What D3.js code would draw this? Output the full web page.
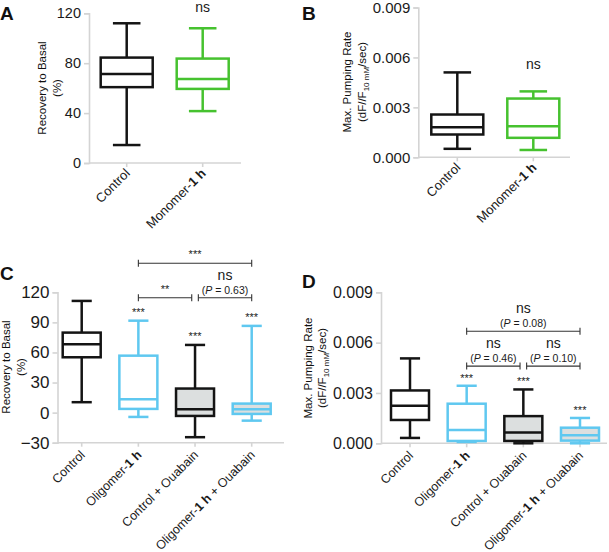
<!DOCTYPE html>
<html>
<head>
<meta charset="utf-8">
<script src="https://cdnjs.cloudflare.com/ajax/libs/d3/7.8.5/d3.min.js"></script>
<style>
  html, body { margin: 0; padding: 0; background: #fff; }
  svg { display: block; font-family: "Liberation Sans", Arial, Helvetica, sans-serif; }
</style>
</head>
<body>
<svg id="chart" width="609" height="552"></svg>
<script>
// ---------------- DATA ----------------
const catsAB = [["Control", ""], ["Monomer-", "1 h"]];
const catsCD = [["Control", "", ""], ["Oligomer-", "1 h", ""], ["Control + Ouabain", "", ""], ["Oligomer-", "1 h", " + Ouabain"]];

// five-number summaries: [min, q1, median, q3, max]
const recoveryMonomer = [
  [14.4, 60.8, 71.4, 84.5, 112],
  [41.6, 59.4, 67.4, 83.7, 108]
];
const pumpingMonomer = [
  [0.00051, 0.00137, 0.00181, 0.00257, 0.0051],
  [0.00044, 0.00117, 0.00187, 0.00353, 0.00396]
];
const recoveryOligomer = [
  [10.4, 55.2, 68.2, 79.8, 111.4],
  [-4.3, 3.7, 13.4, 56.8, 91.7],
  [-24.5, -3.3, 3.4, 24.0, 67.5],
  [-8.0, -1.3, 3.4, 9.0, 86.5]
];
const pumpingOligomer = [
  [0.00032, 0.00139, 0.00224, 0.00315, 0.00506],
  [0.00008, 0.00014, 0.00079, 0.00236, 0.00343],
  [0.00000, 0.00014, 0.00065, 0.00162, 0.00321],
  [0.00000, 0.00016, 0.00048, 0.00093, 0.00151]
];

const ticksRecoveryA = [0, 40, 80, 120];
const ticksPumping = [0, 0.003, 0.006, 0.009];
const ticksRecoveryC = [-30, 0, 30, 60, 90, 120];

// significance labels
const starsA = ["", "ns"];
const starsB = ["", "ns"];
const starsC = ["", "***", "***", "***"];
const starsD = ["", "***", "***", "***"];
const bracketsC = [
  {from: 1, to: 3, text: "***", p: null},
  {from: 1, to: 2, text: "**", p: null},
  {from: 2, to: 3, text: "ns", p: "0.63"}
];
const bracketsD = [
  {from: 1, to: 3, text: "ns", p: "0.08"},
  {from: 1, to: 2, text: "ns", p: "0.46"},
  {from: 2, to: 3, text: "ns", p: "0.10"}
];

// ---------------- STYLE / LAYOUT ----------------
const BLACK = "#141414", GREEN = "#46c22f", BLUE = "#5fc8f0", GRAYFILL = "#dcdfdf", AXIS = "#d4d4d4";
const svg = d3.select("#chart");

function panel(cfg) {
  const g = svg.append("g");
  const x = d3.scalePoint().domain(d3.range(cfg.cats.length)).range(cfg.xr);
  const y = d3.scaleLinear().domain(cfg.domain).range(cfg.yr);

  // y axis
  const ya = g.append("g").attr("transform", `translate(${cfg.x0},0)`)
    .call(d3.axisLeft(y).tickValues(cfg.ticks).tickSize(5).tickPadding(3).tickFormat(cfg.fmt));
  ya.select(".domain").attr("stroke", AXIS).attr("stroke-width", 1.6);
  ya.selectAll(".tick line").attr("stroke", AXIS).attr("stroke-width", 1.6);
  ya.selectAll(".tick text").attr("fill", "#1a1a1a").attr("font-size", cfg.tickFs)
    .attr("font-family", "Liberation Sans, Arial, sans-serif");

  // x axis
  const y0 = cfg.yr[0];
  g.append("line").attr("x1", cfg.x0).attr("x2", cfg.x1).attr("y1", y0).attr("y2", y0)
    .attr("stroke", AXIS).attr("stroke-width", 1.6);
  g.selectAll(".xt").data(cfg.cats).join("line")
    .attr("x1", (d, i) => x(i)).attr("x2", (d, i) => x(i))
    .attr("y1", y0).attr("y2", y0 + 4).attr("stroke", AXIS).attr("stroke-width", 1.6);

  // x labels
  cfg.cats.forEach((c, i) => {
    const t = g.append("text")
      .attr("transform", `translate(${x(i) + cfg.lblDx},${y0 + cfg.lblDy}) rotate(-45)`)
      .attr("text-anchor", "end").attr("font-size", cfg.lblFs).attr("fill", "#1a1a1a");
    t.append("tspan").text(c[0]);
    if (c[1]) t.append("tspan").attr("font-weight", "bold").text(c[1]);
    if (c[2]) t.append("tspan").text(c[2]);
  });

  // boxes
  const bw = cfg.bw, cw = bw * 0.53;
  cfg.stats.forEach((s, i) => {
    const col = cfg.colors[i], cx = x(i);
    const bg = g.append("g").attr("stroke", col).attr("stroke-width", 2.5).attr("fill", "none");
    bg.append("line").attr("x1", cx).attr("x2", cx).attr("y1", y(s[4])).attr("y2", y(s[3]));
    bg.append("line").attr("x1", cx).attr("x2", cx).attr("y1", y(s[1])).attr("y2", y(s[0]));
    bg.append("line").attr("x1", cx - cw / 2).attr("x2", cx + cw / 2).attr("y1", y(s[4])).attr("y2", y(s[4]));
    bg.append("line").attr("x1", cx - cw / 2).attr("x2", cx + cw / 2).attr("y1", y(s[0])).attr("y2", y(s[0]));
    bg.append("rect").attr("x", cx - bw / 2).attr("width", bw)
      .attr("y", y(s[3])).attr("height", y(s[1]) - y(s[3]))
      .attr("fill", cfg.fills[i]);
    bg.append("line").attr("x1", cx - bw / 2).attr("x2", cx + bw / 2).attr("y1", y(s[2])).attr("y2", y(s[2]));

    const st = cfg.stars[i];
    if (st) {
      const isNs = st === "ns";
      g.append("text").attr("x", cx).attr("y", isNs ? cfg.nsY : y(s[4]) - cfg.starGap)
        .attr("text-anchor", "middle").attr("font-size", isNs ? 14 : 11)
        .attr("fill", "#1a1a1a").text(st);
    }
  });

  // brackets
  if (cfg.brackets) {
    cfg.brackets.forEach((b, k) => {
      const by = y(cfg.bracketLevels[k]);
      const sameLevel = (j) => j !== k && cfg.bracketLevels[j] === cfg.bracketLevels[k];
      const xa = x(b.from) + (cfg.brackets.some((o, j) => sameLevel(j) && o.to === b.from) ? 3.3 : 0);
      const xb = x(b.to) - (cfg.brackets.some((o, j) => sameLevel(j) && o.from === b.to) ? 3.3 : 0);
      const bgp = g.append("g").attr("stroke", "#333").attr("stroke-width", 1.1);
      bgp.append("line").attr("x1", xa).attr("x2", xb).attr("y1", by).attr("y2", by);
      bgp.append("line").attr("x1", xa).attr("x2", xa).attr("y1", by - 3.5).attr("y2", by + 3.5);
      bgp.append("line").attr("x1", xb).attr("x2", xb).attr("y1", by - 3.5).attr("y2", by + 3.5);
      const mx = (xa + xb) / 2;
      if (b.p) {
        g.append("text").attr("x", mx).attr("y", by - 18).attr("text-anchor", "middle")
          .attr("font-size", 14).attr("fill", "#1a1a1a").text(b.text);
        const pt = g.append("text").attr("x", mx).attr("y", by - 4).attr("text-anchor", "middle")
          .attr("font-size", 10.5).attr("fill", "#1a1a1a");
        pt.append("tspan").text("(");
        pt.append("tspan").attr("font-style", "italic").text("P");
        pt.append("tspan").text(" = " + b.p + ")");
      } else {
        g.append("text").attr("x", mx).attr("y", by - 5).attr("text-anchor", "middle")
          .attr("font-size", 11).attr("fill", "#1a1a1a").text(b.text);
      }
    });
  }

  // y label
  const yl = g.append("text").attr("transform", `translate(${cfg.ylX},${cfg.ylY}) rotate(-90)`)
    .attr("text-anchor", "middle").attr("font-size", 11.5).attr("fill", "#111");
  yl.text(cfg.ylabel[0]);
  const l2 = g.append("text").attr("transform", `translate(${cfg.ylX + cfg.ylGap},${cfg.ylY}) rotate(-90)`)
    .attr("text-anchor", "middle").attr("font-size", 11.5).attr("fill", "#111");
  if (cfg.ylabel[1] === "pump") {
    l2.append("tspan").text("(dF//F");
    l2.append("tspan").attr("font-size", 8).attr("dy", 3).text("10 mM");
    l2.append("tspan").attr("dy", -3).text("/sec)");
  } else {
    l2.text(cfg.ylabel[1]);
  }

  // panel letter
  svg.append("text").attr("x", cfg.letter[1]).attr("y", cfg.letter[2])
    .attr("font-size", 19).attr("font-weight", "bold").attr("fill", "#111").text(cfg.letter[0]);
}

panel({
  cats: catsAB, stats: recoveryMonomer, colors: [BLACK, GREEN], fills: ["none", "none"],
  stars: starsA, nsY: 12, starGap: 9,
  x0: 89, x1: 241, xr: [126.7, 202.7], domain: [0, 120], yr: [163, 13.3],
  ticks: ticksRecoveryA, fmt: d3.format("d"), tickFs: 14.5,
  bw: 52, lblDx: 4, lblDy: 11, lblFs: 13,
  ylabel: ["Recovery to Basal", "(%)"], ylX: 46, ylY: 88, ylGap: 15,
  letter: ["A", 0, 20]
});
panel({
  cats: catsAB, stats: pumpingMonomer, colors: [BLACK, GREEN], fills: ["none", "none"],
  stars: starsB, nsY: 69, starGap: 9,
  x0: 418.3, x1: 570, xr: [457.3, 533.3], domain: [0, 0.009], yr: [157.3, 7.5],
  ticks: ticksPumping, fmt: d3.format(".3f"), tickFs: 15,
  bw: 52, lblDx: 4, lblDy: 11, lblFs: 13,
  ylabel: ["Max. Pumping Rate", "pump"], ylX: 351, ylY: 82, ylGap: 15,
  letter: ["B", 302, 20]
});
panel({
  cats: catsCD, stats: recoveryOligomer, colors: [BLACK, BLUE, BLACK, BLUE], fills: ["none", "none", GRAYFILL, GRAYFILL],
  stars: starsC, starGap: 5,
  brackets: bracketsC, bracketLevels: [149, 114.6, 114.6],
  x0: 57.5, x1: 284, xr: [81.7, 251.7], domain: [-30, 120], yr: [442.7, 292.3],
  ticks: ticksRecoveryC, fmt: d3.format("d"), tickFs: 17,
  bw: 38, lblDx: 4, lblDy: 13, lblFs: 12.5,
  ylabel: ["Recovery to Basal", "(%)"], ylX: 10, ylY: 367, ylGap: 15,
  letter: ["C", 0, 280]
});
panel({
  cats: catsCD, stats: pumpingOligomer, colors: [BLACK, BLUE, BLACK, BLUE], fills: ["none", "none", GRAYFILL, GRAYFILL],
  stars: starsD, starGap: 4,
  brackets: bracketsD, bracketLevels: [0.00668, 0.0046, 0.0046],
  x0: 381, x1: 607, xr: [410, 580], domain: [0, 0.009], yr: [443.3, 292.3],
  ticks: ticksPumping, fmt: d3.format(".3f"), tickFs: 16,
  bw: 38, lblDx: 4, lblDy: 13, lblFs: 12.5,
  ylabel: ["Max. Pumping Rate", "pump"], ylX: 312, ylY: 368, ylGap: 14,
  letter: ["D", 302, 288]
});
</script>
</body>
</html>
